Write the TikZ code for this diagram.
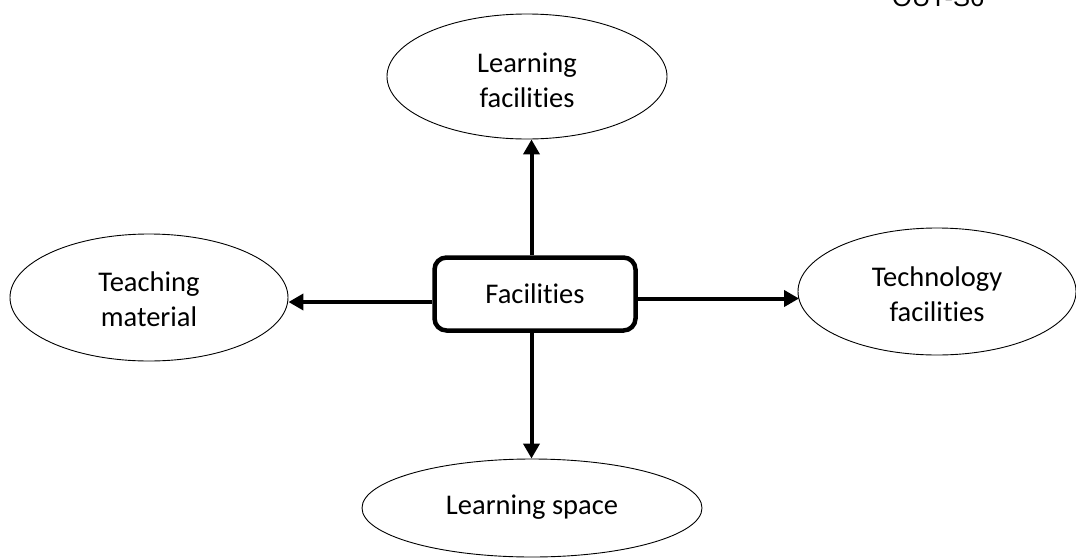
\documentclass[tikz,border=0pt]{standalone}
\usepackage{fontspec}
\setmainfont{Carlito}[RawFeature=-liga]
\newfontfamily\arialfont{Liberation Sans}
\usetikzlibrary{shapes.geometric,arrows.meta,calc}
\tikzset{
  oval/.style={draw=black, line width=0.9pt, ellipse, inner sep=0pt},
  ovaltext/.style={align=center, inner sep=0pt, font=\fontsize{28.5}{35}\selectfont},
  mainbox/.style={draw=black, line width=4.5pt, rounded corners=12pt, fill=white,
    minimum width=201pt, minimum height=73pt, inner sep=0pt,
    font=\fontsize{28.5}{35}\selectfont},
  arr/.style={line width=4pt, -{Triangle[length=15pt,width=16pt]}}
}
\begin{document}
\begin{tikzpicture}[x=1pt,y=-1pt]
\useasboundingbox (0,0) rectangle (1076,557);
\node[oval, minimum width=280pt, minimum height=125pt] (lf) at (527,76.5) {};
\node[oval, minimum width=278pt, minimum height=127pt] (tm) at (149,297.5) {};
\node[oval, minimum width=278pt, minimum height=127pt] (tf) at (937,291.5) {};
\node[oval, minimum width=340pt, minimum height=98pt] (ls) at (532,508) {};
\node[ovaltext] (lft) at ($(lf.center)+(0,4)$) {Learning\\facilities};
\node[ovaltext] (tmt) at ($(tm.center)+(0,2)$) {Teaching\\material};
\node[ovaltext] (tft) at ($(tf.center)+(0,2.5)$) {Technology\\facilities};
\node[ovaltext] (lst) at ($(ls.center)+(0,-1)$) {Learning space};
\node[mainbox] (box) at (535,294) {Facilities};
\node[anchor=base west, font=\arialfont\fontsize{25.5}{30}\selectfont, inner sep=0pt] (lbl) at (892,6) {OUT-S6};
\draw[arr] (box.north -| 531.5,0) -- (lf.south -| 531.5,0);
\draw[arr] (box.south -| 531.5,0) -- (ls.north -| 531.5,0);
\draw[arr] (box.west |- 0,302) -- (tm.east |- 0,302);
\draw[arr] (box.east |- 0,298.5) -- ($(tf.west |- 0,298.5)+(1.5,0)$);
\end{tikzpicture}
\end{document}
